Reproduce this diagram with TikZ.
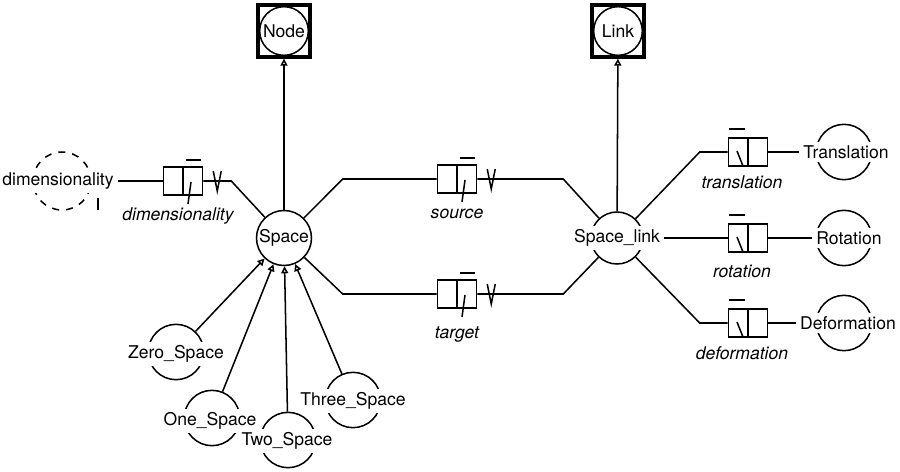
\documentclass[tikz,border=0pt]{standalone}
\usepackage{fontspec}
\setmainfont{TeX Gyre Heros}
\usetikzlibrary{arrows.meta,positioning}

\begin{document}
\begin{tikzpicture}[x=0.03cm,y=-0.03cm,line width=1.3pt,font=\fontsize{15}{18}\selectfont,
  ent/.style={circle,draw,minimum size=1.65cm,inner sep=0pt},
  subent/.style={circle,draw,minimum size=1.66cm,inner sep=0pt},
  entname/.style={fill=white,inner sep=3pt},
  basebox/.style={draw,line width=2.8pt,minimum size=1.56cm,inner sep=0pt},
  basecirc/.style={circle,draw,minimum size=1.46cm,inner sep=0pt},
  relbox/.style={draw,minimum width=1.17cm,minimum height=0.84cm,inner sep=0pt},
  role/.style={font=\fontsize{15}{18}\selectfont\itshape,text height=1.6ex,text depth=.4ex},
  isa/.style={-{Triangle[open,length=6pt,width=6pt]}}]
\useasboundingbox (0,0) rectangle (900,471);

\node[basebox] (nodebox) at (284,31) {};
\node[basecirc] (Node) at (284,31) {Node};
\node[basebox] (linkbox) at (618,31) {};
\node[basecirc] (Link) at (618,31) {Link};

\node[ent] (Space) at (284,238) {Space};
\node[subent,minimum size=1.56cm] (spacelink) at (617,238) {};
\node[entname] (spacelinktxt) at (617,238) {Space\_link};

\node[subent,dashed,dash pattern=on 6pt off 6pt,minimum size=1.74cm] (dimtype) at (62,181) {};
\node[entname] (dimtxt) at (58,181) {dimensionality};
\draw (98,198) -- (98,210);

\node[subent] (zero) at (176,352) {};
\node[entname] (zerotxt) at (176,354) {Zero\_Space};
\node[subent] (one) at (212,418) {};
\node[entname] (onetxt) at (210,421) {One\_Space};
\node[subent] (two) at (288,440) {};
\node[entname] (twotxt) at (287,441) {Two\_Space};
\node[subent] (three) at (353,400) {};
\node[entname] (threetxt) at (353,401) {Three\_Space};

\node[subent] (trans) at (844,152) {};
\node[entname] (transtxt) at (846,152) {Translation};
\node[subent] (rot) at (844,238) {};
\node[entname] (rottxt) at (849,238) {Rotation};
\node[subent] (def) at (844,323) {};
\node[entname] (deftxt) at (848,323) {Deformation};

\node[relbox] (dimbox) at (183,181) {};
\node[relbox] (srcbox) at (457,179) {};
\node[relbox] (tgtbox) at (457,294) {};
\node[relbox] (trbox) at (748,152) {};
\node[relbox] (rotbox) at (748,238) {};
\node[relbox] (defbox) at (748,323) {};

\foreach \b in {dimbox,srcbox,tgtbox,trbox,rotbox,defbox}
  \draw (\b.north) -- (\b.south);
\foreach \b in {dimbox,srcbox,tgtbox}{
  \draw ([shift={(3,-6)}]\b.north) -- ([shift={(-2,-6)}]\b.north east);
  \draw ([shift={(8,1)}]\b.center) -- ([shift={(5,23)}]\b.center);
  \draw ([shift={(10,-10)}]\b.east) -- ([shift={(14,10)}]\b.east) -- ([shift={(18,-10)}]\b.east);
}
\foreach \b in {trbox,rotbox,defbox}{
  \draw ([shift={(1,-8)}]\b.north west) -- ([shift={(-3,-8)}]\b.north);
  \draw ([shift={(-11,-1)}]\b.center) -- ([shift={(-5,14)}]\b.center);
}

\node[role,below=0.32cm of dimbox,xshift=-0.15cm] (dimrole) {dimensionality};
\node[role,below=0.32cm of srcbox] (srcrole) {source};
\node[role,below=0.45cm of tgtbox] (tgtrole) {target};
\node[role,below=0.22cm of trbox,xshift=-0.18cm] (trrole) {translation};
\node[role,below=0.32cm of rotbox,xshift=-0.18cm] (rotrole) {rotation};
\node[role,below=0.22cm of defbox,xshift=-0.18cm] (defrole) {deformation};

\draw[isa] (Space) -- (nodebox);
\draw[isa] (spacelink) -- (linkbox);
\draw[isa] (zero) -- (Space);
\draw[isa] (one) -- (Space);
\draw[isa] (two) -- (Space);
\draw[isa] (three) -- (Space);

\draw (dimtxt.east) -- (dimbox.west);
\draw (dimbox.east) -- ++(28,0) -- (Space);
\draw (srcbox.west) -- ++(-94,0) -- (Space);
\draw (srcbox.east) -- ++(86,0) -- (spacelink);
\draw (tgtbox.west) -- ++(-94,0) -- (Space);
\draw (tgtbox.east) -- ++(86,0) -- (spacelink);
\draw (trbox.west) -- ++(-28,0) -- (spacelink);
\draw (defbox.west) -- ++(-28,0) -- (spacelink);
\draw (spacelinktxt.east) -- (rotbox.west);
\draw (trbox.east) -- (transtxt.west);
\draw (rotbox.east) -- (rottxt.west);
\draw (defbox.east) -- (deftxt.west);
\end{tikzpicture}
\end{document}
